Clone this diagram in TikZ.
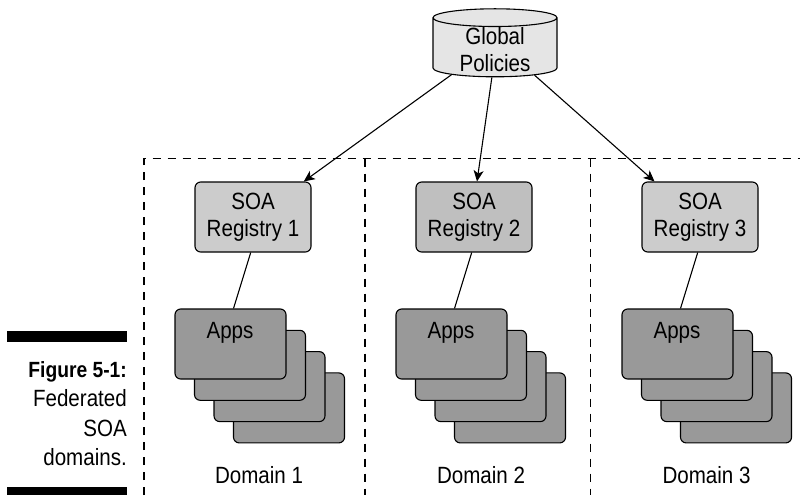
\documentclass[tikz,border=0pt]{standalone}
\usepackage{fontspec}
\setmainfont[FakeStretch=0.875]{Liberation Sans}
\usetikzlibrary{
    calc,
    arrows.meta,
    shapes.geometric
}
\definecolor{policygray}{gray}{0.9}
\definecolor{registrygray}{gray}{0.8}
\definecolor{darkregistry}{gray}{0.75}
\definecolor{appsgray}{gray}{0.6}
\tikzset{
    big text/.style={font=\fontsize{23.5}{27.5}\selectfont},
    registry/.style={draw, rounded corners=2mm, line width=1.1pt, fill=registrygray,
        minimum width=116pt, minimum height=70pt, align=center, big text},
    apps card/.style={draw, rounded corners=2mm, line width=1.1pt, fill=appsgray,
        minimum width=111pt, minimum height=70pt},
    plain label/.style={big text, inner sep=0pt, anchor=base},
    domain line/.style={dash pattern=on 8pt off 7pt, line width=1.1pt},
    policy arrow/.style={-{Stealth[length=11pt,width=10pt,inset=3pt]}, line width=1.1pt},
    black bar/.style={fill=black, draw=none, inner sep=0pt, minimum width=120pt}
}
\begin{document}
\begin{tikzpicture}[x=1pt, y=-1pt]
        \useasboundingbox (0,0) rectangle (800,495);
        \coordinate (tl) at (144,158.5);
        \coordinate (tr) at (800,158.5);
        % domain frame
        \draw[domain line] (144,495) -- (tl) -- (tr);
        \foreach \x in {365,590.7} {
            \draw[domain line] (\x,158.5) -- (\x,495);
        }
        \node[cylinder, shape border rotate=90, aspect=0.25, draw, line width=1.1pt,
            cylinder uses custom fill, cylinder body fill=policygray, cylinder end fill=policygray,
            minimum width=124pt, minimum height=68pt, inner sep=0pt, big text] (policies) at (495,47.5)
            {\raisebox{-11pt}[10pt][10pt]{\begin{tabular}{@{}c@{}}Global\\Policies\end{tabular}}};
        \foreach \n/\x/\dx/\shade in {1/0/0/registrygray,2/221/222/darkregistry,3/447/447.5/registrygray} {
            \node[registry, fill=\shade] (reg\n) at ({253+\x},217) {SOA\\Registry \n};
            \foreach \c in {3,2,1,0} {
                \node[apps card] (apps\n\c) at ({230.5+\x+19.5*\c},{344+21.3*\c}) {};
            }
            \node[plain label] (appslabel\n) at ({230+\x},338) {Apps};
            \node[plain label] (domain\n) at ({259+\dx},483) {Domain \n};
            \draw[line width=1.1pt] ($(reg\n.south)+(-2.3,0)$) -- ($(apps\n0.north)+(3,0)$);
        }
        \draw[policy arrow] (policies.212) -- (reg1.35);
        \draw[policy arrow] (policies.264) -- ($(reg2.north)+(3,0)$);
        \draw[policy arrow] (policies.325) -- (reg3.142);
        % caption
        \node[black bar, minimum height=11pt] (bartop) at (67,336.5) {};
        \node[black bar, minimum height=8pt] (barbottom) at (67,491) {};
        \node[anchor=base east, inner sep=0pt, font=\fontsize{22}{27}\selectfont\bfseries] (figlabel) at (127,377) {Figure 5-1:};
        \node[anchor=base east, inner sep=0pt, big text] (federated) at (127,406.7) {Federated};
        \node[anchor=base east, inner sep=0pt, big text] (soa) at (127,436.7) {SOA};
        \node[anchor=base east, inner sep=0pt, big text] (domains) at (127,465.7) {domains.};
    \end{tikzpicture}
\end{document}
